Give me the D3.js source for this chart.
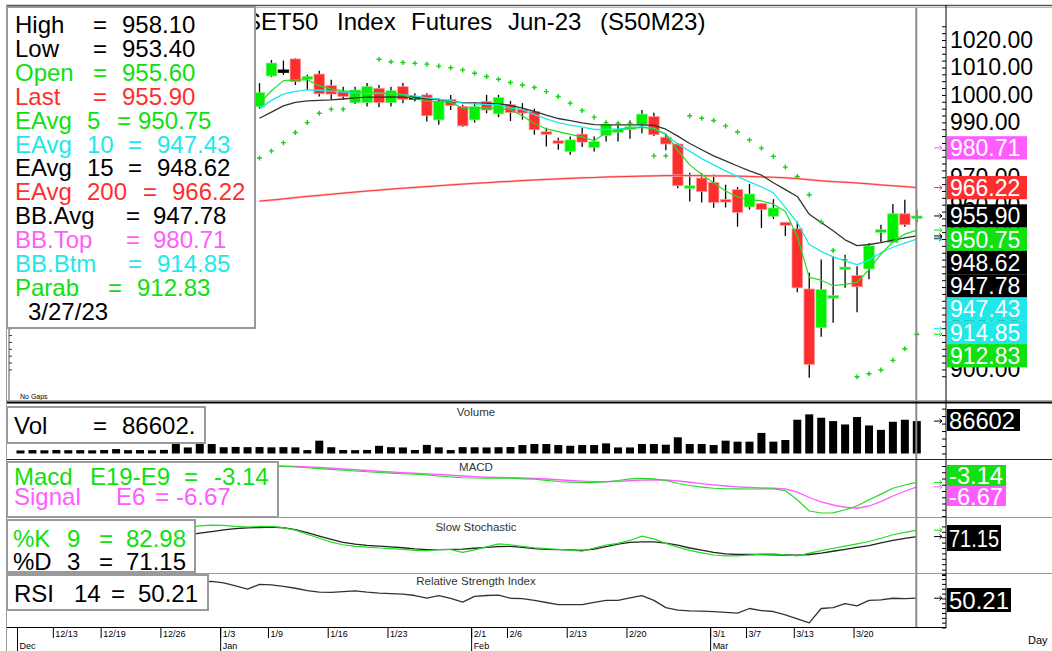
<!DOCTYPE html>
<html>
<head>
<meta charset="utf-8">
<script src="https://cdn.jsdelivr.net/npm/d3@7/dist/d3.min.js"></script>
<style>
  body { margin: 0; background: #fff; }
  svg { display: block; font-family: "Liberation Sans", Arial, sans-serif; }
</style>
</head>
<body>
<div id="chart"></div>
<script>
// trading days on the chart
const dates = ["12/7","12/8","12/9","12/13","12/14","12/15","12/16","12/19","12/20","12/21","12/22","12/23","12/26","12/27","12/28","12/29","12/30",
  "1/3","1/4","1/5","1/6","1/9","1/10","1/11","1/12","1/13","1/16","1/17","1/18","1/19","1/20","1/23","1/24","1/25","1/26","1/27","1/30","1/31",
  "2/1","2/2","2/3","2/6","2/7","2/8","2/9","2/10","2/13","2/14","2/15","2/16","2/17","2/20","2/21","2/22","2/23","2/24","2/27","2/28",
  "3/1","3/2","3/3","3/7","3/8","3/9","3/10","3/13","3/14","3/15","3/16","3/17","3/20","3/21","3/22","3/23","3/24","3/27"];

const tickDates = ["12/13","12/19","12/26","1/3","1/9","1/16","1/23","2/1","2/6","2/13","2/20","3/1","3/7","3/13","3/20"];
const monthDates = ["12/7","1/3","2/1","3/1"];
const monthNames = ["Dec","Jan","Feb","Mar"];

// candles visible right of the legend box (1/6 .. 3/27)
const candleDates = dates.slice(20);
const open  = [995.7,1006.9,1009.1,1013.1,1005.7,1007.6,1003.4,1001.2,997.2,997.2,1002.4,997.2,1003.0,999.4,1000.0,990.9,998.4,995.8,990.9,997.6,
  993.1,996.4,994.8,993.9,986.6,983.3,979.4,985.7,980.8,985.2,986.6,987.9,989.1,992.1,984.6,982.1,966.4,969.7,968.1,961.9,
  965.5,959.2,960.4,955.8,953.6,951.2,929.3,915.2,926.4,936.8,934.2,936.6,950.4,946.3,956.7,955.6];
const high  = [1004.3,1012.7,1012.5,1013.3,1007.3,1008.8,1005.5,1003.0,1003.0,1004.3,1003.6,1003.0,1004.3,1000.6,1000.6,998.8,1000.0,996.4,997.2,1000.0,
  1000.0,997.8,997.0,995.0,988.0,984.4,984.8,987.9,984.8,989.6,989.4,990.7,994.5,993.5,985.8,982.5,971.6,971.5,971.0,967.3,
  966.4,967.6,960.6,962.0,953.6,953.9,935.2,940.0,941.2,941.8,937.6,946.0,952.7,960.3,961.8,958.1];
const low   = [995.0,1006.5,1007.3,1003.6,1001.8,999.4,998.2,998.2,996.7,995.8,995.5,995.8,997.0,997.6,990.3,989.1,994.5,988.4,989.9,993.3,
  991.9,990.5,991.0,985.5,981.2,980.0,978.2,981.0,979.4,983.0,983.0,984.0,986.0,985.0,979.8,966.0,961.2,960.8,958.9,959.0,
  952.0,958.2,951.5,954.8,948.6,928.1,897.0,911.9,917.0,929.7,920.8,932.8,946.3,946.3,952.0,953.4];
const close = [1000.8,1011.6,1009.1,1004.8,1006.7,1000.4,1000.3,999.4,1001.8,1003.0,997.2,1001.5,998.4,999.4,992.4,997.6,996.2,988.7,995.8,994.5,
  999.0,993.6,993.4,987.3,986.0,982.8,983.6,982.8,983.0,989.1,987.3,988.4,993.0,985.5,982.1,966.9,966.9,964.8,960.8,961.6,
  957.2,963.9,958.2,958.8,952.5,929.7,901.8,929.1,926.9,937.3,930.1,945.0,950.9,956.7,952.7,955.9];

// overlays (1/6 .. 3/27)
const ema5   = [997.0,1001.5,1005.2,1005.5,1005.5,1003.3,1002.2,1001.5,1001.1,1000.9,1000.7,1000.3,1000.0,998.6,997.7,997.6,997.3,995.2,995.2,995.3,
  995.0,994.6,992.3,989.6,987.6,986.6,985.6,984.7,983.3,986.2,987.3,987.7,988.2,987.6,985.8,979.8,974.5,971.0,968.0,965.0,
  962.8,961.8,961.4,960.2,957.5,948.5,933.5,932.5,930.5,931.0,931.7,936.3,942.0,946.5,949.3,950.75];
const ema10  = [995.0,998.0,1000.3,1001.3,1001.8,1001.7,1001.4,1001.0,1000.8,1000.7,1000.6,1000.5,1000.1,999.6,998.9,998.5,997.8,997.0,996.7,996.5,
  996.4,995.2,994.6,992.8,991.3,989.9,989.0,988.3,987.4,987.4,987.6,987.9,988.4,987.8,985.5,982.0,979.5,976.8,974.5,972.3,
  970.3,968.3,966.5,964.3,959.0,953.5,945.5,943.0,941.0,939.5,938.2,939.8,942.5,944.5,946.0,947.43];
const ema15  = [991.5,993.7,996.0,997.3,997.8,998.0,998.2,998.5,998.9,999.2,999.2,999.3,999.2,999.1,998.6,998.3,997.6,997.2,997.1,996.9,
  996.7,996.2,995.2,994.0,992.6,991.4,990.6,989.8,989.2,989.1,989.1,989.1,989.1,988.9,987.5,985.0,982.3,980.0,977.8,976.0,
  974.1,972.3,970.8,968.0,965.5,963.0,956.5,953.5,950.5,947.2,945.1,945.5,946.2,947.1,947.9,948.62];
const ema200 = [961.3,961.7,962.1,962.6,963.0,963.4,963.8,964.2,964.6,965.0,965.3,965.7,966.0,966.3,966.6,966.9,967.2,967.5,967.8,968.0,
  968.3,968.5,968.8,969.0,969.2,969.4,969.6,969.8,969.9,970.1,970.2,970.3,970.4,970.5,970.6,970.6,970.6,970.6,970.5,970.5,
  970.4,970.3,970.1,970.0,969.8,969.5,969.1,968.7,968.4,968.2,967.9,967.6,967.2,966.9,966.6,966.22];
const parab  = [977.0,979.6,982.6,986.3,989.9,993.3,994.8,994.8,997.6,null,1013.0,1012.1,1011.8,1011.5,1011.2,1010.5,1009.9,1009.1,1007.9,1006.7,
  1005.7,1004.5,1003.6,1002.7,1001.2,999.4,997.0,994.3,991.9,989.9,989.7,989.7,null,977.8,977.8,null,992.4,991.5,990.7,988.7,
  986.5,983.6,980.6,977.6,973.7,970.3,963.6,953.7,943.3,940.0,897.3,898.4,899.8,903.3,907.5,912.83];

// volume, all days
const volume = [8200,9100,8600,9400,8800,9000,8500,9300,11800,8900,9200,8700,9600,25300,16200,25300,25300,16800,17500,16900,
  17200,16500,17000,16400,9100,34300,16800,9300,9000,9500,20500,16800,16200,9400,23000,16500,9200,17000,16700,16200,
  16800,17300,22600,25300,25300,22600,20700,22600,22600,27100,16200,16200,25300,25300,23500,43300,25300,25300,22600,34300,
  31600,31600,55000,31600,36100,90200,104600,95600,86600,77600,97400,74900,63100,84800,90200,86602];

// MACD (1/6 .. 3/27)
const macd   = [10.2,10.0,9.7,9.2,8.6,7.9,7.3,6.6,6.0,5.4,4.8,4.3,3.8,3.4,2.9,2.0,1.2,0.6,0.4,0.3,
  0.4,0.2,-0.3,-0.6,-1.5,-2.4,-2.9,-3.2,-3.3,-2.6,-1.6,-0.3,0.1,-0.3,-1.6,-4.0,-5.6,-6.9,-7.8,-8.2,
  -8.3,-8.4,-8.4,-8.3,-9.8,-17.0,-26.0,-27.6,-27.5,-25.0,-22.0,-17.0,-12.5,-7.8,-5.2,-3.14];
const signal = [10.0,10.0,9.9,9.7,9.3,8.8,8.2,7.6,7.0,6.4,5.8,5.2,4.7,4.2,3.7,3.2,2.6,2.0,1.5,1.1,
  0.9,0.7,0.4,0.1,-0.4,-1.0,-1.6,-2.1,-2.5,-2.6,-2.3,-1.8,-1.3,-1.0,-1.2,-2.0,-3.0,-4.1,-5.1,-6.0,
  -6.7,-7.2,-7.6,-7.8,-8.4,-10.9,-15.2,-18.7,-21.2,-23.0,-23.8,-22.0,-18.5,-14.0,-10.2,-6.67];

// slow stochastic (12/28 .. 3/27)
const stochDates = dates.slice(14);
const pctK = [87,91,92.5,92,90,88.5,90,90,87.5,83,75.5,68,61,56,53,51.5,50,49,47.5,45.5,
  45,47,47,42,46.5,52,57.5,56,53,50.5,49,47.5,46,44,50,55.5,58.5,64,72,67,
  58.5,51.5,45.5,41,37,35.5,35.5,37,38.5,39,37.5,35.5,40.5,45,49.5,53.5,57.5,62,68,74.5,79,82.98];
const pctD = [74,77.5,80.5,83.5,86,87.5,88,88.5,87.5,84,78.5,72,66,60.5,57,55,53.5,52,50.5,48.5,
  47,47,47.5,48,49.5,51,52.5,53,51,49,47.5,47,46.5,45.5,48,52.5,57,60.5,61.5,61.5,
  59,55.5,50,46,42,39,38,38,38,37.5,37,36.8,38,40.5,44,47.5,51,54.5,59.5,64,68,71.15];

// RSI 14 (12/29 .. 3/27)
const rsiDates = dates.slice(15);
const rsi = [67,67.5,66,63,59.5,64.5,64,62.5,60.5,58,56.5,56.2,57,57.8,56.5,55.5,55,54.5,53,50.2,
  52.8,50,46.2,52.2,53,53.5,50.2,49.8,48,45.8,43.6,43.6,43.6,46,47.9,47.9,50.5,52.8,48,40.5,
  38,37.2,36.8,36.3,35.7,34.8,39.6,37.5,36.5,33,29,24.8,39.6,40.5,44.6,42.3,47.9,48.5,50.2,49.8,50.21];

// legend texts
const legendLabels = ["High","Low","Open","Last","EAvg","EAvg","EAvg","EAvg","BB.Avg","BB.Top","BB.Btm","Parab"];
const legendParams = ["","","","","5","10","15","200","","","",""];
const legendValues = ["958.10","953.40","955.60","955.90","950.75","947.43","948.62","966.22","947.78","980.71","914.85","912.83"];
const legendDate = "3/27/23";
const lastValues = [980.71, 966.22, 955.90, 950.75, 948.62, 947.78, 947.43, 914.85, 912.83];

// ---------------------------------------------------------------
const GREEN = "#10e010", RED = "#ff2e2e", CYAN = "#1ee8e8", PINK = "#ff5cff";
const legendColors = ["#000","#000",GREEN,RED,GREEN,CYAN,"#000",RED,"#000",PINK,CYAN,GREEN];
const legendEqX  = [93,93,93,93,117,128,128,143,126,126,128,108];
const legendValX = [122,122,122,122,138,157,157,172,153,153,157,137];
const lastColors = [PINK, RED, "#000", GREEN, "#000", "#000", CYAN, CYAN, GREEN];

const W = 1052, H = 651;
const svg = d3.select("#chart").append("svg").attr("width", W).attr("height", H);
svg.append("rect").attr("width", W).attr("height", H).attr("fill", "#fff");

const x = d3.scalePoint().domain(dates).range([20.5, 916.8]);
const yMain  = d3.scaleLinear().domain([900, 1020]).range([369.4, 40]);
const yVol   = d3.scaleLinear().domain([0, 120000]).range([453.5, 408.6]);
const yMacd  = d3.scaleLinear().domain([-30, 12]).range([516, 463.5]);
const yStoch = d3.scaleLinear().domain([0, 100]).range([575, 521]);
const yRsi   = d3.scaleLinear().domain([20, 75]).range([627.5, 574.2]);

const defs = svg.append("defs");
function clip(id, y0, y1) {
  defs.append("clipPath").attr("id", id).append("rect")
    .attr("x", 7).attr("y", y0).attr("width", 939).attr("height", y1 - y0);
}
clip("cMain", 8, 401); clip("cVol", 404, 459); clip("cMacd", 461, 517);
clip("cStoch", 519, 573); clip("cRsi", 575, 627);

// title
const titleWords = ["SET50", "Index", "Futures", "Jun-23", "(S50M23)"];
const titleX = [245, 337, 411, 508, 600];
svg.append("g").selectAll("text").data(titleWords).join("text")
  .attr("x", (d, i) => titleX[i]).attr("y", 29.5)
  .attr("font-size", 24).attr("fill", "#000").text(d => d);

// ---- main panel
const gMain = svg.append("g").attr("clip-path", "url(#cMain)");

const candles = candleDates.map((d, i) => ({ d, o: open[i], h: high[i], l: low[i], c: close[i] }));
gMain.append("g").selectAll("line").data(candles).join("line")
  .attr("x1", d => x(d.d)).attr("x2", d => x(d.d))
  .attr("y1", d => yMain(d.h)).attr("y2", d => yMain(d.l))
  .attr("stroke", "#000").attr("stroke-width", 1.3);
gMain.append("g").selectAll("rect").data(candles).join("rect")
  .attr("x", d => x(d.d) - 5.3).attr("width", 10.6)
  .attr("y", d => yMain(Math.max(d.o, d.c)))
  .attr("height", d => Math.max(2.6, Math.abs(yMain(d.o) - yMain(d.c))))
  .attr("fill", d => d.c > d.o ? "#00f000" : d.c < d.o ? RED : "#000")
  .attr("stroke", d => d.c > d.o ? "#7cf07c" : d.c < d.o ? "#ff9a9a" : "#000")
  .attr("stroke-width", 0.7);

function drawLine(g, xs, ys, scale, color, w) {
  const line = d3.line().defined(d => d[1] != null)
    .x(d => x(d[0])).y(d => scale(d[1]));
  g.append("path").datum(xs.map((d, i) => [d, ys[i]]))
    .attr("d", line).attr("fill", "none")
    .attr("stroke", color).attr("stroke-width", w).attr("stroke-linejoin", "round");
}
drawLine(gMain, candleDates, ema200, yMain, "#ffb0b0", 2.2);
drawLine(gMain, candleDates, ema200, yMain, "#ff2828", 0.9);
drawLine(gMain, candleDates, ema15, yMain, "#333", 1.3);
drawLine(gMain, candleDates, ema10, yMain, CYAN, 1.3);
drawLine(gMain, candleDates, ema5, yMain, "#22dd22", 1.2);

// parabolic SAR crosses
gMain.append("g").selectAll("path")
  .data(candleDates.map((d, i) => [d, parab[i]]).filter(d => d[1] != null))
  .join("path")
  .attr("d", d => { const px = x(d[0]), py = yMain(d[1]);
    return `M${px - 2.5},${py}H${px + 2.5}M${px},${py - 2.5}V${py + 2.5}`; })
  .attr("stroke", "#18d018").attr("stroke-width", 1.4);

gMain.append("text").attr("x", 20).attr("y", 399).attr("font-size", 7).text("No Gaps");

// left axis stub of the main panel
svg.append("g").attr("transform", "translate(9,0)")
  .call(d3.axisRight(yMain).tickValues(d3.range(900, 1021, 2.5)).tickSize(3).tickFormat(""))
  .call(g => g.select(".domain").remove())
  .call(g => g.selectAll("line").attr("stroke", "#333"));
svg.append("line").attr("x1", 9).attr("x2", 9).attr("y1", 8).attr("y2", 401).attr("stroke", "#555");

// ---- volume
const gVol = svg.append("g").attr("clip-path", "url(#cVol)");
gVol.selectAll("rect").data(dates.map((d, i) => [d, volume[i]])).join("rect")
  .attr("x", d => x(d[0]) - 4).attr("width", 8)
  .attr("y", d => yVol(d[1])).attr("height", d => yVol(0) - yVol(d[1]))
  .attr("fill", "#000");

// ---- MACD
const gMacd = svg.append("g").attr("clip-path", "url(#cMacd)");
drawLine(gMacd, candleDates, signal, yMacd, PINK, 1.3);
drawLine(gMacd, candleDates, macd, yMacd, "#22dd22", 1.2);

// ---- stochastic
const gSt = svg.append("g").attr("clip-path", "url(#cStoch)");
drawLine(gSt, stochDates, pctD, yStoch, "#222", 1.3);
drawLine(gSt, stochDates, pctK, yStoch, "#22dd22", 1.2);

// ---- RSI
const gRsi = svg.append("g").attr("clip-path", "url(#cRsi)");
drawLine(gRsi, rsiDates, rsi, yRsi, "#333", 1.3);

// panel titles
const titles = [["Volume", 416], ["MACD", 471], ["Slow Stochastic", 531], ["Relative Strength Index", 585]];
svg.append("g").selectAll("text").data(titles).join("text")
  .attr("x", 476).attr("y", d => d[1]).attr("text-anchor", "middle")
  .attr("font-size", 11.5).attr("fill", "#333").text(d => d[0]);

// cursor on the last bar
svg.append("line").attr("x1", 916.3).attr("x2", 916.3).attr("y1", 8).attr("y2", 627)
  .attr("stroke", "#8a8a8a").attr("stroke-width", 2);

// frames
const frame = svg.append("g");
frame.append("line").attr("x1", 6).attr("x2", W).attr("y1", 5.5).attr("y2", 5.5).attr("stroke", "#555").attr("stroke-width", 1.5);
frame.append("line").attr("x1", 6).attr("x2", W).attr("y1", 7.5).attr("y2", 7.5).attr("stroke", "#bbb").attr("stroke-width", 1);
frame.append("line").attr("x1", 6).attr("x2", W).attr("y1", 400.5).attr("y2", 400.5).attr("stroke", "#aaa");
frame.append("line").attr("x1", 6).attr("x2", W).attr("y1", 402.5).attr("y2", 402.5).attr("stroke", "#000").attr("stroke-width", 2);
[[459.5, "#222"], [517.5, "#999"], [573.5, "#999"]].forEach(([yy, c]) =>
  frame.append("line").attr("x1", 6).attr("x2", W).attr("y1", yy).attr("y2", yy).attr("stroke", c));
frame.append("line").attr("x1", 6).attr("x2", 946).attr("y1", 627.5).attr("y2", 627.5).attr("stroke", "#000");
frame.append("line").attr("x1", 6.5).attr("x2", 6.5).attr("y1", 5).attr("y2", H).attr("stroke", "#999");
frame.append("line").attr("x1", 946).attr("x2", 946).attr("y1", 5).attr("y2", 628).attr("stroke", "#000");

// right axes: ticks
function ticksLeft(scale, values) {
  svg.append("g").attr("transform", "translate(946,0)")
    .call(d3.axisLeft(scale).tickValues(values).tickSize(4).tickFormat(""))
    .call(g => g.select(".domain").remove())
    .call(g => g.selectAll("line").attr("stroke", "#000"));
}
ticksLeft(yMain, d3.range(897.5, 1026, 2.5));
ticksLeft(yVol, d3.range(0, 120001, 20000));
ticksLeft(yMacd, d3.range(-30, 12.1, 5));
ticksLeft(yStoch, d3.range(0, 91, 10));
ticksLeft(yRsi, d3.range(20, 76, 5));

// main price labels
svg.append("g").attr("transform", "translate(946,0)")
  .call(d3.axisRight(yMain).tickValues(d3.range(900, 1021, 10)).tickSize(0).tickPadding(4)
    .tickFormat(d3.format(".2f")))
  .call(g => g.select(".domain").remove())
  .call(g => g.selectAll("text").attr("font-size", 23).attr("fill", "#000")
    .attr("font-family", "'Liberation Sans', Arial, sans-serif"));

// last-value markers and boxes on the price axis
function arrow(yy, color) {
  svg.append("path").attr("d", `M934,${yy}H942M939.5,${yy - 2.2}L942,${yy}L939.5,${yy + 2.2}`)
    .attr("stroke", color).attr("stroke-width", 1).attr("fill", "none");
}
let prev = -1e9;
lastValues.forEach((v, i) => {
  const y0 = yMain(v);
  arrow(y0, lastColors[i]);
  const yy = Math.max(y0, prev + 23.3);
  prev = yy;
  svg.append("rect").attr("x", 947).attr("y", yy - 11.65).attr("width", 80).attr("height", 23.3)
    .attr("fill", lastColors[i]);
  svg.append("text").attr("x", 950).attr("y", yy + 8.3).attr("font-size", 23)
    .attr("fill", "#fff").text(v.toFixed(2));
});

// sub-panel value boxes
function valueBox(txt, color, bx, by, bw, bh, fs, tl) {
  svg.append("rect").attr("x", bx).attr("y", by).attr("width", bw).attr("height", bh).attr("fill", color);
  svg.append("text").attr("x", bx + 2).attr("y", by + bh / 2 + fs * 0.36).attr("font-size", fs)
    .attr("fill", "#fff").attr("textLength", tl).attr("lengthAdjust", "spacingAndGlyphs").text(txt);
}
arrow(yVol(volume[75]), "#000");
valueBox("86602", "#000", 947, 409, 73, 22, 24, 66);
arrow(yMacd(macd[55]), GREEN);
arrow(yMacd(signal[55]), PINK);
valueBox("-3.14", GREEN, 947, 465, 59, 21, 24, 54);
valueBox("-6.67", PINK, 947, 486, 59, 20, 24, 54);
arrow(yStoch(pctK[61]), GREEN);
arrow(yStoch(pctD[61]), "#000");
valueBox("71.15", "#000", 947, 525, 54, 26, 24, 50);
arrow(yRsi(rsi[60]), "#000");
valueBox("50.21", "#000", 947, 588, 64, 24, 24, 60);

// x axis
const gx = svg.append("g").attr("font-size", 9).attr("fill", "#000");
tickDates.forEach(d => {
  gx.append("line").attr("x1", x(d) - 3).attr("x2", x(d) - 3).attr("y1", 628).attr("y2", 638).attr("stroke", "#000");
  gx.append("text").attr("x", x(d) - 1).attr("y", 637).text(d);
});
monthDates.forEach((d, i) => {
  gx.append("line").attr("x1", x(d) - 3).attr("x2", x(d) - 3).attr("y1", 628).attr("y2", 651).attr("stroke", "#000");
  gx.append("text").attr("x", x(d) - 1).attr("y", 649).text(monthNames[i]);
});
svg.append("text").attr("x", 1028).attr("y", 644).attr("font-size", 11).text("Day");

// ---- legend boxes
function box(bx, by, bw, bh) {
  svg.append("rect").attr("x", bx).attr("y", by).attr("width", bw).attr("height", bh)
    .attr("fill", "#fff").attr("stroke", "#9a9a9a").attr("stroke-width", 2);
}
function put(tx, ty, txt, color) {
  svg.append("text").attr("x", tx).attr("y", ty).attr("font-size", 24).attr("fill", color).text(txt);
}

box(7, 7, 248, 321);
legendLabels.forEach((lab, i) => {
  const ty = 33 + i * 23.9;
  put(15, ty, lab, legendColors[i]);
  if (legendParams[i]) put(87, ty, legendParams[i], legendColors[i]);
  put(legendEqX[i], ty, "=", legendColors[i]);
  put(legendValX[i], ty, legendValues[i], legendColors[i]);
});
put(28, 33 + 12 * 23.9, legendDate, "#000");

box(7, 407, 198, 36);
put(14, 434, "Vol", "#000"); put(93, 434, "=", "#000"); put(122, 434, "86602.", "#000");

box(7, 462, 271, 55);
put(14, 484.5, "Macd", GREEN); put(90, 484.5, "E19-E9", GREEN); put(184, 484.5, "=", GREEN); put(214, 484.5, "-3.14", GREEN);
put(14, 505, "Signal", PINK); put(116, 505, "E6", PINK); put(155, 505, "=", PINK); put(176, 505, "-6.67", PINK);

defs.append("clipPath").attr("id", "cSt").append("rect").attr("x", 7).attr("y", 520).attr("width", 190).attr("height", 52);
box(7, 520, 188, 52);
const stTxt = svg.append("g").attr("clip-path", "url(#cSt)");
[["%K", 13], ["9", 67], ["=", 99], ["82.98", 126]].forEach(([t, tx]) =>
  stTxt.append("text").attr("x", tx).attr("y", 546.5).attr("font-size", 24).attr("fill", GREEN).text(t));
[["%D", 13], ["3", 67], ["=", 99], ["71.15", 126]].forEach(([t, tx]) =>
  stTxt.append("text").attr("x", tx).attr("y", 570).attr("font-size", 24).attr("fill", "#000").text(t));

box(7, 575, 201, 35);
put(14, 601.5, "RSI", "#000"); put(74, 601.5, "14", "#000"); put(111, 601.5, "=", "#000"); put(138, 601.5, "50.21", "#000");
</script>
</body>
</html>
